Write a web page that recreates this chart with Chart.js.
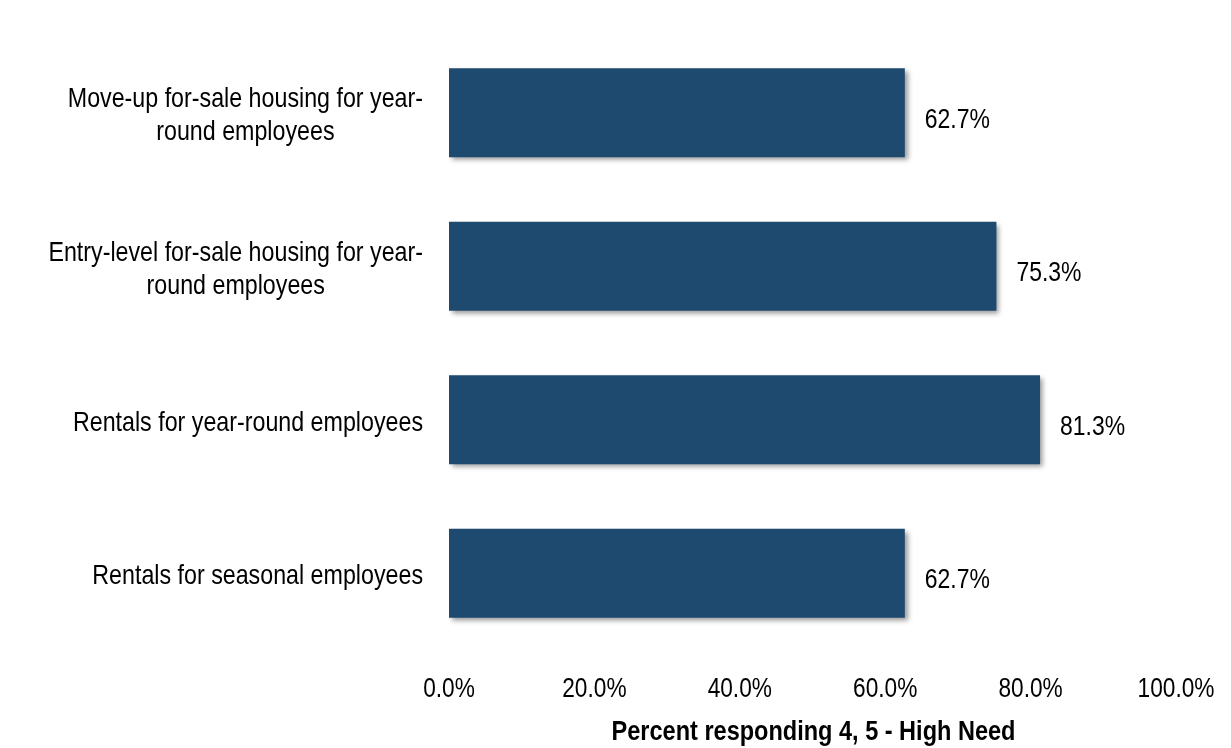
<!DOCTYPE html>
<html>
<head>
<meta charset="utf-8">
<script src="https://cdn.jsdelivr.net/npm/chart.js@4/dist/chart.umd.min.js"></script>
<style>
  html, body { margin: 0; padding: 0; background: #ffffff; }
  #wrap { width: 1231px; height: 748px; position: relative; }
</style>
</head>
<body>
<div id="wrap"><canvas id="needChart"></canvas></div>
<script>
// Housing need categories (top to bottom), each split into display lines
const categories = [
  ['Move-up for-sale housing for year-', 'round employees'],
  ['Entry-level for-sale housing for year-', 'round employees'],
  ['Rentals for year-round employees'],
  ['Rentals for seasonal employees']
];
// Percent responding 4 or 5
const highNeed = [62.7, 75.3, 81.3, 62.7];
const xTicks = [0, 20, 40, 60, 80, 100];
const axisTitle = 'Percent responding 4, 5 - High Need';

const FONT = "'Liberation Sans', Arial, sans-serif";
const BAR_COLOR = '#1e4a6f';
// no narrow face installed, so text is squeezed horizontally
const SQUEEZE = 0.83;

function narrowText(ctx, text, x, y, align, sx) {
  ctx.save();
  ctx.translate(x, y);
  ctx.scale(sx, 1);
  ctx.textAlign = align;
  ctx.fillText(text, 0, 0);
  ctx.restore();
}

function narrowWidth(ctx, text, sx) {
  return ctx.measureText(text).width * sx;
}

// Drop shadow under the bars
const barShadow = {
  id: 'barShadow',
  beforeDatasetsDraw(chart) {
    const ctx = chart.ctx;
    ctx.save();
    ctx.shadowColor = 'rgba(0, 0, 0, 0.4)';
    ctx.shadowBlur = 5;
    ctx.shadowOffsetX = 3;
    ctx.shadowOffsetY = 3;
  },
  afterDatasetsDraw(chart) {
    chart.ctx.restore();
  }
};

// Category labels, value labels, x tick labels and axis title
const labelText = {
  id: 'labelText',
  afterDraw(chart) {
    const ctx = chart.ctx;
    const xScale = chart.scales.x;
    const yScale = chart.scales.y;
    const area = chart.chartArea;
    const meta = chart.getDatasetMeta(0);
    ctx.save();
    ctx.fillStyle = '#000000';
    ctx.textBaseline = 'alphabetic';
    ctx.font = '28px ' + FONT;

    // wrapped labels are centred on their widest line, which sits flush right
    const right = area.left - 26;
    const lineH = 33;
    categories.forEach((lines, i) => {
      const cy = yScale.getPixelForValue(i);
      const widest = Math.max(...lines.map(l => narrowWidth(ctx, l, SQUEEZE)));
      const cx = right - widest / 2;
      lines.forEach((line, j) => {
        const y = cy + 11 + (j - (lines.length - 1) / 2) * lineH;
        narrowText(ctx, line, cx, y, 'center', SQUEEZE);
      });
    });

    meta.data.forEach((bar, i) => {
      narrowText(ctx, highNeed[i].toFixed(1) + '%', bar.x + 20, bar.y + 15, 'left', 0.82);
    });

    xTicks.forEach(v => {
      narrowText(ctx, v.toFixed(1) + '%', xScale.getPixelForValue(v), area.bottom + 47, 'center', 0.81);
    });

    ctx.font = 'bold 28px ' + FONT;
    narrowText(ctx, axisTitle, (area.left + area.right) / 2 + 1, area.bottom + 90, 'center', 0.84);
    ctx.restore();
  }
};

new Chart(document.getElementById('needChart'), {
  type: 'bar',
  data: {
    labels: categories.map(l => l.join(' ')),
    datasets: [{
      data: highNeed,
      backgroundColor: BAR_COLOR,
      borderWidth: 0,
      categoryPercentage: 0.58,
      barPercentage: 1.0
    }]
  },
  options: {
    indexAxis: 'y',
    responsive: true,
    maintainAspectRatio: false,
    animation: false,
    layout: { padding: { top: 36, left: 449, right: 55, bottom: 98 } },
    plugins: {
      legend: { display: false },
      tooltip: { enabled: false }
    },
    scales: {
      y: { display: false },
      x: { display: false, min: 0, max: 100 }
    }
  },
  plugins: [barShadow, labelText]
});
</script>
</body>
</html>
